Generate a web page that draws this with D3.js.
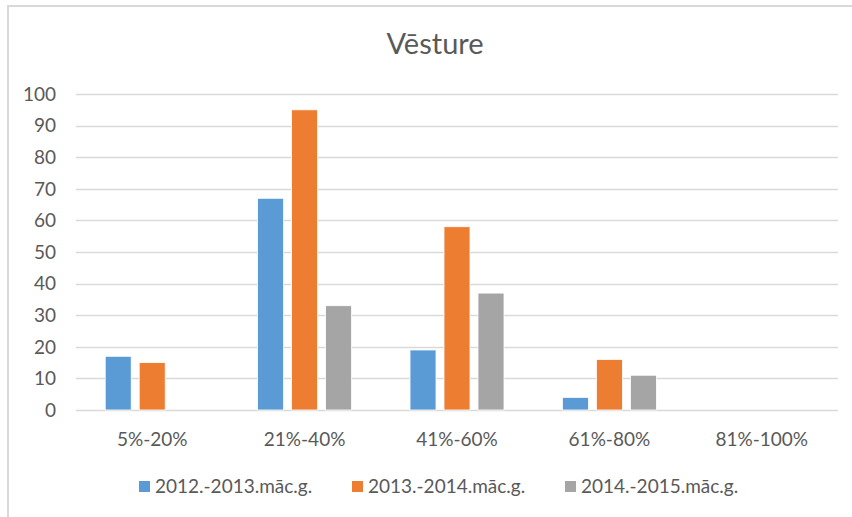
<!DOCTYPE html>
<html>
<head>
<meta charset="utf-8">
<script src="https://cdn.jsdelivr.net/npm/d3@7"></script>
<style>
  body { margin: 0; background: #fff; }
  svg { display: block; font-family: Lato, "Open Sans", sans-serif; }
</style>
</head>
<body>
<div id="chart"></div>
<script>
const title = "Vēsture";
const categories = ["5%-20%", "21%-40%", "41%-60%", "61%-80%", "81%-100%"];
const seriesNames = ["2012.-2013.māc.g.", "2013.-2014.māc.g.", "2014.-2015.māc.g."];
const series2012 = [17, 67, 19, 4, 0];
const series2013 = [15, 95, 58, 16, 0];
const series2014 = [0, 33, 37, 11, 0];
const yTicks = [0, 10, 20, 30, 40, 50, 60, 70, 80, 90, 100];
const colors = ["#5b9bd5", "#ed7d31", "#a5a5a5"];

const allSeries = [series2012, series2013, series2014];

const width = 852, height = 517;
const margin = { top: 94, right: 14, bottom: 107, left: 76 };

const svg = d3.select("#chart").append("svg")
    .attr("width", width)
    .attr("height", height);

// chart frame
svg.append("rect")
    .attr("x", 8).attr("y", 6)
    .attr("width", 860).attr("height", 530)
    .attr("fill", "none")
    .attr("stroke", "#d9d9d9")
    .attr("stroke-width", 2);

svg.append("text")
    .attr("x", 435)
    .attr("y", 54)
    .attr("text-anchor", "middle")
    .attr("font-size", 29)
    .attr("fill", "#595959")
    .text(title);

const x = d3.scaleBand()
    .domain(categories)
    .range([margin.left, width - margin.right]);

// group of three bars, 94px wide, centred in each category
const groupW = 94;
const xs = d3.scaleBand()
    .domain(seriesNames)
    .range([(x.bandwidth() - groupW) / 2, (x.bandwidth() + groupW) / 2])
    .paddingInner(0.235);

const y = d3.scaleLinear()
    .domain([0, 100])
    .range([height - margin.bottom, margin.top]);

// gridlines
svg.append("g")
    .selectAll("line")
    .data(yTicks)
    .join("line")
    .attr("x1", margin.left)
    .attr("x2", width - margin.right)
    .attr("y1", d => Math.round(y(d)) + 0.5)
    .attr("y2", d => Math.round(y(d)) + 0.5)
    .attr("stroke", "#d9d9d9")
    .attr("stroke-width", 1.3);

// y axis labels
svg.append("g")
    .selectAll("text")
    .data(yTicks)
    .join("text")
    .attr("x", 56)
    .attr("y", d => y(d))
    .attr("dy", "0.36em")
    .attr("text-anchor", "end")
    .attr("font-size", 19)
    .attr("fill", "#595959")
    .text(d => d);

// bars
const groups = svg.append("g")
    .selectAll("g")
    .data(categories)
    .join("g")
    .attr("transform", d => "translate(" + x(d) + ",0)");

groups.selectAll("rect")
    .data((c, i) => seriesNames.map((s, j) => ({ s: s, v: allSeries[j][i], j: j })))
    .join("rect")
    .attr("x", d => xs(d.s))
    .attr("width", xs.bandwidth())
    .attr("y", d => y(d.v))
    .attr("height", d => y(0) - y(d.v))
    .attr("fill", d => colors[d.j])
    .attr("stroke", "#fff")
    .attr("stroke-width", d => d.v > 0 ? 0.8 : 0);

// x axis labels
svg.append("g")
    .selectAll("text")
    .data(categories)
    .join("text")
    .attr("x", d => x(d) + x.bandwidth() / 2)
    .attr("y", 446)
    .attr("text-anchor", "middle")
    .attr("font-size", 19)
    .attr("fill", "#595959")
    .text(d => d);

// legend
const legendX = [139, 352, 565];
const legend = svg.append("g")
    .selectAll("g")
    .data(seriesNames)
    .join("g")
    .attr("transform", (d, i) => "translate(" + legendX[i] + ",481)");

legend.append("rect")
    .attr("width", 11).attr("height", 11)
    .attr("fill", (d, i) => colors[i]);

legend.append("text")
    .attr("x", 16)
    .attr("y", 12)
    .attr("font-size", 19)
    .attr("fill", "#595959")
    .text(d => d);
</script>
</body>
</html>
